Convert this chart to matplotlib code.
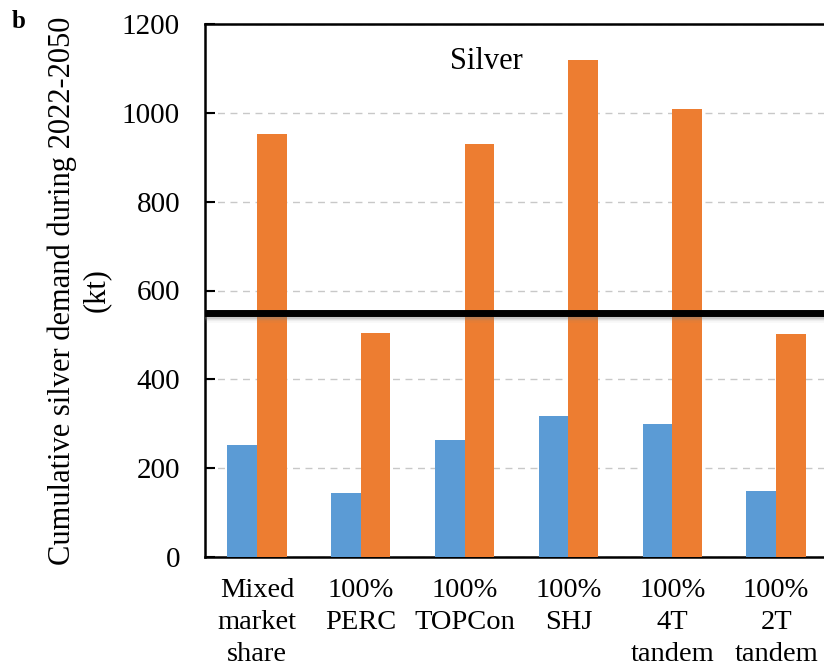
import matplotlib.pyplot as plt
import numpy as np

plt.rcParams['font.family'] = ['Liberation Serif', 'DejaVu Serif']

categories = ['Mixed\nmarket\nshare', '100%\nPERC', '100%\nTOPCon', '100%\nSHJ',
              '100%\n4T\ntandem', '100%\n2T\ntandem']
low_demand = [252, 144, 263, 318, 300, 149]
high_demand = [953, 505, 930, 1120, 1008, 502]
reserve_line = 550

fig = plt.figure(figsize=(8.24, 6.69), dpi=100)
ax = fig.add_axes([205 / 824, 1 - 557 / 669, 623 / 824, 533 / 669])

x = np.arange(len(categories))
w = 0.285
ax.bar(x - w / 2, low_demand, w, color='#5B9BD5', zorder=3)
ax.bar(x + w / 2, high_demand, w, color='#ED7D31', zorder=3)

# reserve line with a soft shadow underneath
for off, a in [(16, 0.06), (13, 0.1), (10, 0.15), (7, 0.22)]:
    ax.axhline(reserve_line - off, color='gray', lw=4, alpha=a, zorder=4)
ax.axhline(reserve_line, color='black', lw=5, zorder=5)

ax.set_xlim(-0.5, len(categories) - 0.5)
ax.set_ylim(0, 1200)
ax.set_yticks(range(0, 1201, 200))
ax.yaxis.grid(True, ls=(0, (5, 4)), color='#c8c8c8', lw=1, zorder=0)
ax.set_xticks(x)
ax.set_xticklabels(categories, fontsize=20.5, linespacing=1.36, va='top')
ax.tick_params(axis='y', direction='in', length=7, width=1.5, labelsize=21, pad=18)
ax.tick_params(axis='x', length=0, pad=15)
for s in ax.spines.values():
    s.set_linewidth(1.8)

ax.set_ylabel('Cumulative silver demand during 2022-2050\n(kt)', fontsize=22,
              linespacing=1.2, labelpad=8)
ax.text(0.451, 0.93, 'Silver', transform=ax.transAxes, fontsize=22, ha='center', va='center')
fig.text(12 / 824, 1 - 22 / 669, 'b', fontsize=18, fontweight='bold', ha='left', va='center')

fig.savefig('out.png', dpi=100)
